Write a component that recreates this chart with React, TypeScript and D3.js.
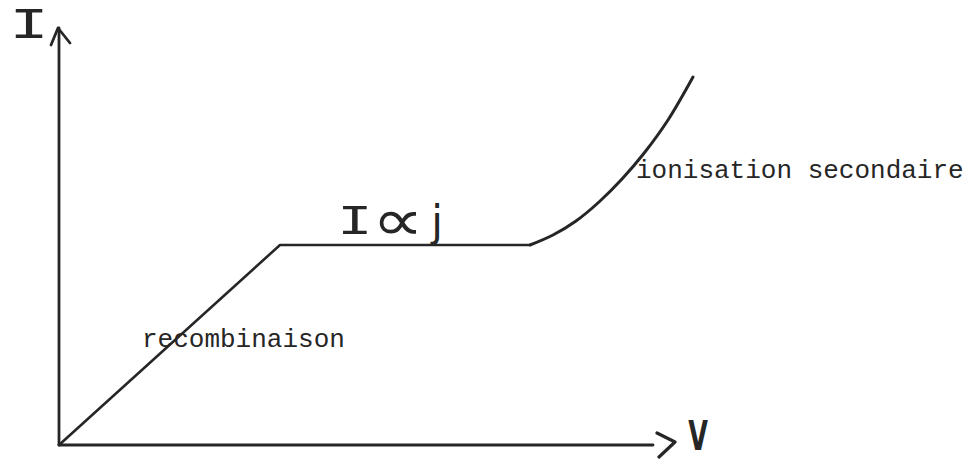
import React from "react";
import * as d3 from "d3";

// Current–voltage characteristic of an ionisation chamber (schematic)
const voltage = [0, 22.1, 47.1, 49.4, 51.7, 54.0, 56.3, 58.6, 60.9, 63.4];
const current = [0, 20, 20, 21.0, 22.4, 24.3, 26.6, 29.3, 32.5, 36.8];
// index where the plateau ends and the secondary-ionisation rise begins
const plateauEnd = 2;

const axisMaxV = 61.6;
const axisMaxI = 41.7;

const axisLabelI = "I";
const axisLabelV = "V";
const regionLabels = ["recombinaison", "ionisation secondaire"];
const plateauLabel = ["I", "\u221D", "j"];

const W = 976;
const H = 459;
const INK = "#262626";

export default function App() {
  const x = d3.scaleLinear().domain([0, 10]).range([59, 159]);
  const y = d3.scaleLinear().domain([0, 10]).range([445, 345]);

  const pts: [number, number][] = voltage.map((v, i) => [v, current[i]]);
  const straight = d3
    .line<[number, number]>()
    .x((d) => x(d[0]))
    .y((d) => y(d[1]))
    .curve(d3.curveLinear)(pts.slice(0, plateauEnd + 1));
  const rise = d3
    .line<[number, number]>()
    .x((d) => x(d[0]))
    .y((d) => y(d[1]))
    .curve(d3.curveCatmullRom.alpha(0.5))(pts.slice(plateauEnd));

  const x0 = x(0);
  const y0 = y(0);
  const xEnd = x(axisMaxV);
  const yEnd = y(axisMaxI);

  const mono = "'Liberation Mono', 'DejaVu Sans Mono', monospace";

  return (
    <svg
      width={W}
      height={H}
      style={{ position: "absolute", left: 0, top: 0, background: "#fff" }}
    >
      <rect width={W} height={H} fill="#fff" />
      {/* axes */}
      <g stroke={INK} strokeWidth={2.8} fill="none" strokeLinecap="round" strokeLinejoin="round">
        <line x1={x0} y1={y0} x2={x0} y2={yEnd} />
        <path d={`M${x0 - 8},${yEnd + 17} L${x0 - 1},${yEnd} L${x0 + 11},${yEnd + 15}`} />
        <line x1={x0} y1={y0} x2={xEnd - 22} y2={y0} />
        <path d={`M${xEnd - 18},${y0 - 12} L${xEnd},${y0 - 3} L${xEnd - 16},${y0 + 12}`} strokeWidth={3.2} />
      </g>
      {/* characteristic */}
      <g stroke={INK} strokeWidth={2.6} fill="none" strokeLinecap="round" strokeLinejoin="round">
        <path d={straight ?? ""} />
        <path d={rise ?? ""} strokeWidth={3} />
      </g>
      {/* axis titles */}
      <text
        x={0}
        y={0}
        transform="translate(29,38) scale(1.5,1)"
        textAnchor="middle"
        fontFamily={mono}
        fontSize={44}
        fill={INK}
      >
        {axisLabelI}
      </text>
      <text
        x={0}
        y={0}
        transform="translate(698,450) scale(0.62,1)"
        textAnchor="middle"
        fontFamily="'DejaVu Sans', sans-serif"
        fontWeight="bold"
        fontSize={41}
        fill={INK}
      >
        {axisLabelV}
      </text>
      {/* region annotations */}
      <text x={142} y={347} fontFamily={mono} fontSize={26} fill={INK}>
        {regionLabels[0]}
      </text>
      <text x={636} y={178} fontFamily={mono} fontSize={26} fill={INK}>
        {regionLabels[1]}
      </text>
      {/* plateau: I proportional to j */}
      <text
        x={0}
        y={0}
        transform="translate(355,234) scale(1.4,1)"
        textAnchor="middle"
        fontFamily={mono}
        fontSize={42}
        fill={INK}
      >
        {plateauLabel[0]}
      </text>
      <text
        x={0}
        y={0}
        transform="translate(398,240) scale(1.25,1)"
        textAnchor="middle"
        fontFamily="'DejaVu Sans', sans-serif"
        fontSize={58}
        fill={INK}
      >
        {plateauLabel[1]}
      </text>
      <text
        x={437}
        y={236}
        textAnchor="middle"
        fontFamily="'DejaVu Sans', sans-serif"
        fontSize={42}
        fill={INK}
      >
        {plateauLabel[2]}
      </text>
    </svg>
  );
}
